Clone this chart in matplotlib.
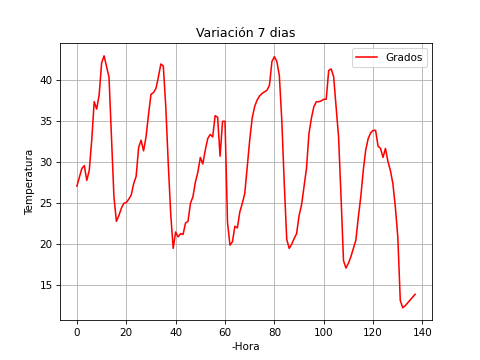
import matplotlib
matplotlib.use("Agg")
import matplotlib.pyplot as plt
import numpy as np

temperatura = [
    27.1, 28.2, 29.25, 29.6, 27.8, 29.0, 32.7, 37.4, 36.5, 38.2,
    42.1, 43.0, 41.7, 40.4, 33.1, 25.8, 22.8, 23.5, 24.4, 25.0,
    25.1, 25.5, 26.0, 27.4, 28.3, 31.8, 32.7, 31.4, 33.1, 35.8,
    38.3, 38.5, 39.0, 40.4, 42.0, 41.75, 36.8, 29.9, 23.7, 19.5,
    21.5, 20.9, 21.3, 21.2, 22.6, 22.8, 25.0, 25.8, 27.6, 28.8,
    30.6, 29.8, 31.5, 32.9, 33.4, 33.1, 35.7, 35.5, 30.75, 35.0,
    35.0, 22.7, 19.9, 20.3, 22.2, 22.0, 23.95, 25.0, 26.2, 29.45,
    32.7, 35.4, 36.8, 37.6, 38.1, 38.4, 38.6, 38.8, 39.4, 42.3,
    42.9, 42.3, 40.6, 35.15, 27.4, 20.6, 19.5, 20.0, 20.7, 21.3,
    23.5, 24.8, 27.0, 29.25, 33.5, 35.4, 36.8, 37.4, 37.4, 37.5,
    37.7, 37.7, 41.2, 41.4, 40.45, 36.8, 33.1, 25.8, 18.0, 17.1,
    17.7, 18.5, 19.5, 20.5, 23.3, 25.8, 29.0, 31.5, 32.9, 33.6,
    33.9, 33.9, 31.97, 31.7, 30.6, 31.7, 30.1, 29.0, 27.4, 24.55,
    20.9, 13.15, 12.25, 12.5, 12.85, 13.2, 13.55, 13.9,
]
horas = list(range(len(temperatura)))

fig, ax = plt.subplots(figsize=(6.4, 4.8), dpi=75)
ax.plot(horas, temperatura, color="red", linewidth=1.5, label="Grados")
ax.set_title("Variación 7 dias")
ax.set_xlabel("-Hora")
ax.set_ylabel("Temperatura")
ax.grid(True)
ax.legend(loc="upper right")
fig.savefig("out.png", dpi=75)
